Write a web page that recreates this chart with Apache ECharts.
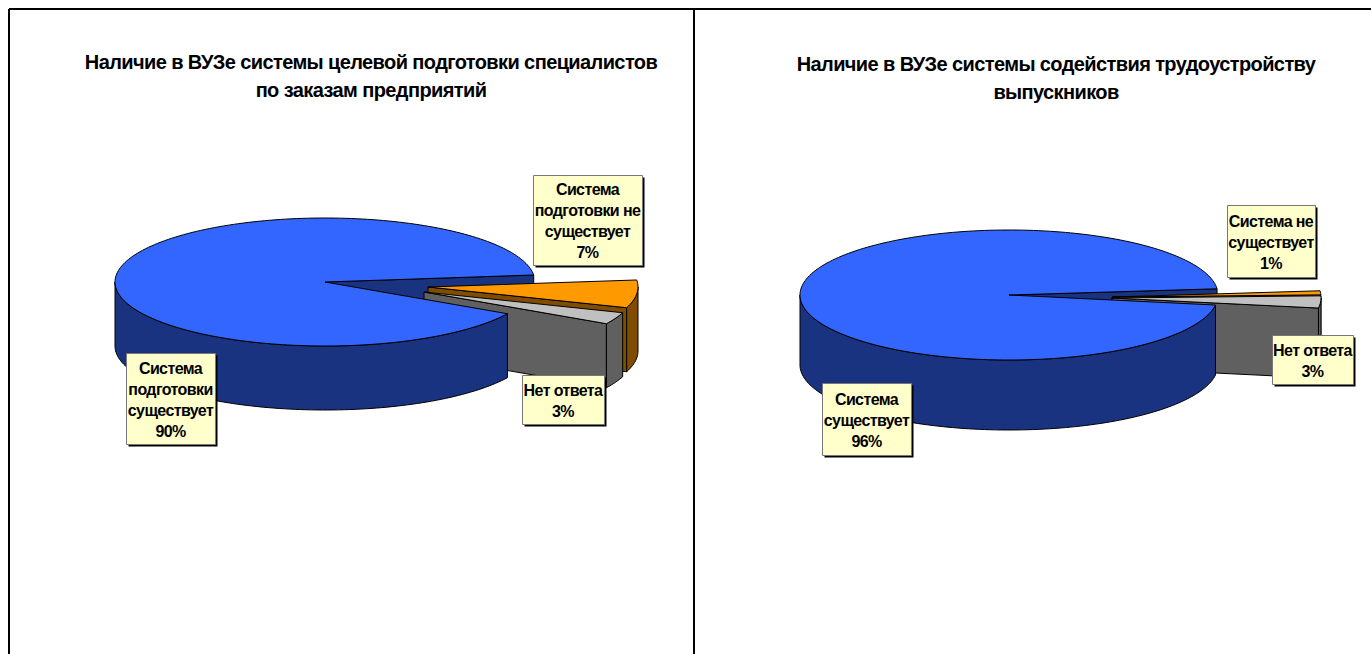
<!DOCTYPE html>
<html><head><meta charset="utf-8">
<style>
html,body{margin:0;padding:0;background:#fff;overflow:hidden}
#c{width:1371px;height:654px}
svg text{letter-spacing:-0.6px}
</style>
<script src="https://cdn.jsdelivr.net/npm/echarts@6/dist/echarts.min.js"></script>
</head><body><div id="c"></div>
<script>
// --- data ---
const leftTitle = 'Наличие в ВУЗе системы целевой подготовки специалистов\nпо заказам предприятий';
const rightTitle = 'Наличие в ВУЗе системы содействия трудоустройству\nвыпускников';
const leftCategories = ['Система\nподготовки\nсуществует', 'Нет ответа', 'Система\nподготовки не\nсуществует'];
const leftValues = [90, 3, 7];
const rightCategories = ['Система\nсуществует', 'Нет ответа', 'Система не\nсуществует'];
const rightValues = [96, 3, 1];
const sliceTop = ['#3366ff', '#c0c0c0', '#ff9900'];
const sliceWall = ['#1a3380', '#606060', '#804d00'];

// --- layout ---
const pies = [
 {cats:leftCategories, vals:leftValues, start:6.3, cx:325, cy:282, rx:210, ry:64, depth:64,
  off:[[0,0],[99,10],[103,5]],
  box:[[126,353,89,91],[522,375,82,49],[533,175,109,90]]},
 {cats:rightCategories, vals:rightValues, start:5.5, cx:1009, cy:295, rx:209, ry:65, depth:70,
  off:[[0,0],[103,3],[103,2]],
  box:[[822,383,89,72],[1272,335,81,49],[1227,205,88,72]]}
];
function pt(p,o,t,dz){const r=t*Math.PI/180;return [p.cx+o[0]+p.rx*Math.cos(r),p.cy+o[1]-p.ry*Math.sin(r)+(dz||0)];}
function arc(p,o,a,b,dz){const n=Math.max(2,Math.ceil(Math.abs(b-a)/1.5)),q=[];for(let i=0;i<=n;i++)q.push(pt(p,o,a+(b-a)*i/n,dz));return q;}
const S=(c)=>({fill:c,stroke:'#000',lineWidth:1,lineJoin:'round'});
function render(p){
 const total=p.vals.reduce((a,b)=>a+b,0);
 return function(params,api){
  const i=params.dataIndex,v=api.value(0);
  let t0=p.start;for(let k=0;k<i;k++)t0+=p.vals[k]/total*360;
  const t1=t0+v/total*360,o=p.off[i],d=p.depth,c=[p.cx+o[0],p.cy+o[1]];
  const base=[30,20,10][i]; const kids=[];
  const poly=(pts,fill,z)=>kids.push({type:'polygon',z2:z,shape:{points:pts},style:S(fill)});
  // flat walls of the cut edges
  if(Math.cos(t0*Math.PI/180)>0){const e=pt(p,o,t0);poly([c,e,[e[0],e[1]+d],[c[0],c[1]+d]],sliceWall[i],i===0?1:base);}
  if(Math.cos(t1*Math.PI/180)<0){const e=pt(p,o,t1);poly([c,e,[e[0],e[1]+d],[c[0],c[1]+d]],sliceWall[i],base);}
  // curved outer wall: only the part facing the viewer
  for(const k of [-1,0,1]){
   const a=Math.max(t0,180+360*k),b=Math.min(t1,360+360*k);
   if(b>a){poly(arc(p,o,a,b,0).concat(arc(p,o,b,a,d)),sliceWall[i],base+1);}
  }
  // top face
  poly([c].concat(arc(p,o,t0,t1,0)),sliceTop[i],base+2);
  // label
  const bx=p.box[i];
  kids.push({type:'rect',z2:50,shape:{x:bx[0]+2.5,y:bx[1]+2.5,width:bx[2],height:bx[3]},style:{fill:'#000'}});
  kids.push({type:'rect',z2:51,shape:{x:bx[0]+.5,y:bx[1]+.5,width:bx[2],height:bx[3]},style:{fill:'#ffffcc',stroke:'#777',lineWidth:1}});
  kids.push({type:'text',z2:52,style:{text:p.cats[i]+'\n'+v+'%',x:bx[0]+bx[2]/2,y:bx[1]+bx[3]/2+1,align:'center',verticalAlign:'middle',
    fontFamily:'"Liberation Sans",Arial,sans-serif',fontWeight:'bold',fontSize:16,lineHeight:21,fill:'#000'}});
  return {type:'group',children:kids};
 };
}
const titleStyle={fontFamily:'"Liberation Sans",Arial,sans-serif',fontWeight:'bold',fontSize:20,lineHeight:28,color:'#000'};
const frame=(x1,y1,x2,y2)=>({type:'line',shape:{x1,y1,x2,y2},style:{stroke:'#000',lineWidth:2}});
const chart=echarts.init(document.getElementById('c'),null,{renderer:'svg'});
chart.setOption({
 animation:false,backgroundColor:'#fff',
 title:[
  {text:leftTitle,left:366,top:43,textAlign:'center',textStyle:titleStyle},
  {text:rightTitle,left:1051,top:45,textAlign:'center',textStyle:titleStyle}
 ],
 graphic:[frame(9,9,1371,9),frame(9,9,9,654),frame(694,9,694,654)],
 series:pies.map(p=>({type:'custom',coordinateSystem:'none',silent:true,renderItem:render(p),
   data:p.vals.map((v,i)=>({name:p.cats[i],value:[v]}))}))
});
</script></body></html>
